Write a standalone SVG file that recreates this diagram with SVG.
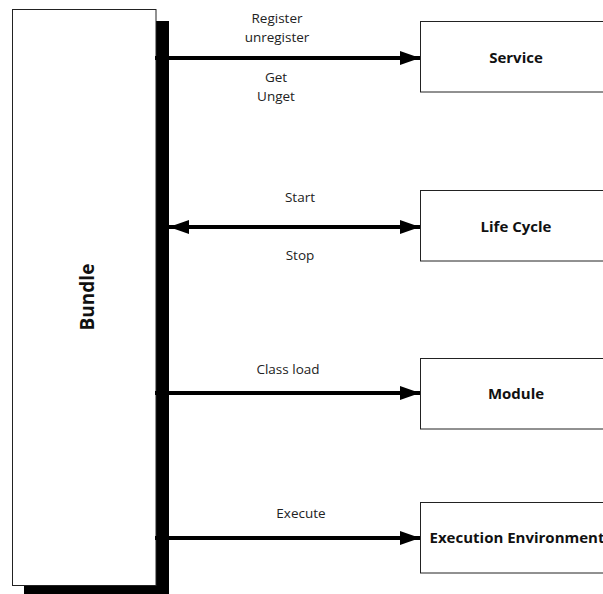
<svg xmlns="http://www.w3.org/2000/svg" width="603" height="594" viewBox="0 0 603 594">
<style>
.box{fill:#fff;stroke:#222;stroke-width:1}
.lbl{font-family:"Open Sans","Liberation Sans",sans-serif;font-size:13.5px;fill:#222;text-anchor:middle}
.nt{font-family:"Open Sans","Liberation Sans",sans-serif;font-size:15px;font-weight:bold;fill:#111;text-anchor:middle}
.ln{stroke:#000;stroke-width:4;fill:none}
</style>
<defs>
<marker id="ah" markerWidth="20" markerHeight="14" refX="20" refY="7" orient="auto" markerUnits="userSpaceOnUse"><path d="M0,0 L20,7 L0,14 Z" fill="#000"/></marker>
<marker id="ahs" markerWidth="20" markerHeight="14" refX="0" refY="7" orient="auto" markerUnits="userSpaceOnUse"><path d="M20,0 L0,7 L20,14 Z" fill="#000"/></marker>
</defs>
<g id="bundle">
<rect x="24" y="21" width="145" height="580" fill="#000"/>
<rect class="box" x="12.5" y="9.5" width="143.5" height="576"/>
<text class="nt" transform="translate(94,297) rotate(-90)" style="font-size:19px">Bundle</text>
</g>
<g id="service">
<rect class="box" x="420.5" y="21.5" width="200" height="70.5"/>
<text class="nt" x="516" y="63">Service</text>
</g>
<g id="lifecycle">
<rect class="box" x="420.5" y="190.5" width="200" height="70.5"/>
<text class="nt" x="516" y="232">Life Cycle</text>
</g>
<g id="module">
<rect class="box" x="420.5" y="358.5" width="200" height="70.5"/>
<text class="nt" x="516" y="399">Module</text>
</g>
<g id="execenv">
<rect class="box" x="420.5" y="502.5" width="200" height="70.5"/>
<text class="nt" x="517" y="543">Execution Environment</text>
</g>
<g id="connectors">
<line class="ln" x1="155" y1="58" x2="420" y2="58" marker-end="url(#ah)"/>
<line class="ln" x1="169" y1="227" x2="420" y2="227" marker-start="url(#ahs)" marker-end="url(#ah)"/>
<line class="ln" x1="155" y1="393" x2="420" y2="393" marker-end="url(#ah)"/>
<line class="ln" x1="155" y1="538" x2="420" y2="538" marker-end="url(#ah)"/>
<text class="lbl" x="277" y="23">Register</text>
<text class="lbl" x="277" y="42">unregister</text>
<text class="lbl" x="276" y="82">Get</text>
<text class="lbl" x="276" y="101">Unget</text>
<text class="lbl" x="300" y="202">Start</text>
<text class="lbl" x="300" y="260">Stop</text>
<text class="lbl" x="288" y="374">Class load</text>
<text class="lbl" x="301" y="518">Execute</text>
</g>
</svg>
